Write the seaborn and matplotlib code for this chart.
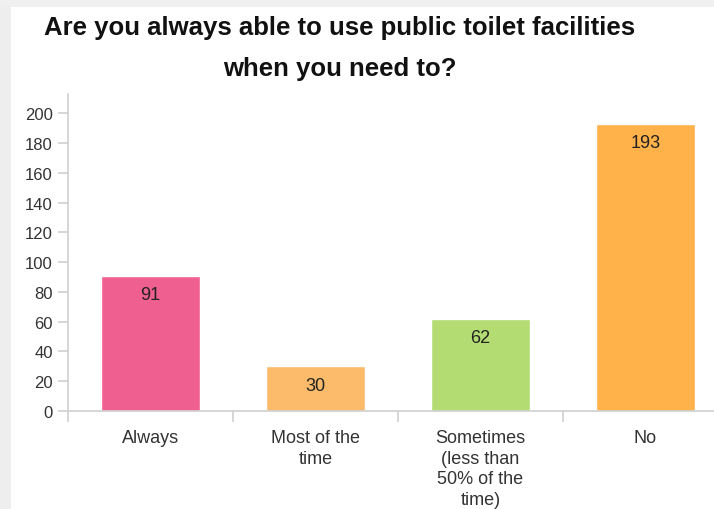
import matplotlib
matplotlib.use("Agg")
import matplotlib.pyplot as plt
from matplotlib.patches import Rectangle
import seaborn as sns
import pandas as pd

categories = ["Always", "Most of the\ntime", "Sometimes\n(less than\n50% of the\ntime)", "No"]
counts = [91, 30, 62, 193]
colors = ["#EF5F8F", "#FBBB6B", "#B3DD72", "#FFB24A"]
yticks = [0, 20, 40, 60, 80, 100, 120, 140, 160, 180, 200]
title = "Are you always able to use public toilet facilities\nwhen you need to?"

sns.set_theme(style="white")
plt.rcParams["font.family"] = ["Liberation Sans", "DejaVu Sans"]

W, H = 714, 510
fig = plt.figure(figsize=(W / 100, H / 100), dpi=100)
fig.patch.set_facecolor("white")

# page frame shading along the left and top edges
fig.patches.append(Rectangle((0, 0), 11 / W, 1, transform=fig.transFigure,
                             facecolor="#eeeeee", edgecolor="none", zorder=0))
fig.patches.append(Rectangle((0, 1 - 8 / H), 1, 8 / H, transform=fig.transFigure,
                             facecolor="#f0f0f0", edgecolor="none", zorder=0))

left, right, bottom, top = 68, 728, 412, 95
ax = fig.add_axes([left / W, (H - bottom) / H, (right - left) / W, (bottom - top) / H])
ax.set_facecolor("none")

df = pd.DataFrame({"category": categories, "count": counts})
sns.barplot(data=df, x="category", y="count", hue="category", palette=colors,
            width=0.6, legend=False, ax=ax, saturation=1)

ax.set_xlim(-0.5, 3.5)
ax.set_ylim(0, 213)
ax.set_xlabel("")
ax.set_ylabel("")

for spine in ["top", "right"]:
    ax.spines[spine].set_visible(False)
for spine in ["left", "bottom"]:
    ax.spines[spine].set_color("#d0d0d0")
    ax.spines[spine].set_linewidth(1.2)

ax.set_yticks(yticks)
ax.tick_params(axis="y", left=True, length=7, width=1.2, color="#d0d0d0",
               labelsize=12, labelcolor="#333333", pad=4)
ax.set_xticks(range(len(categories)))
ax.set_xticklabels(categories, fontsize=13, color="#333333", linespacing=1.27, va="top")
ax.tick_params(axis="x", which="major", length=0, pad=13)
ax.set_xticks([i - 0.5 for i in range(len(categories) + 1)], minor=True)
ax.tick_params(axis="x", which="minor", bottom=True, length=8, width=1.2, color="#d0d0d0")

for i, v in enumerate(counts):
    ax.annotate(str(v), (i, v), xytext=(0, -13.5), textcoords="offset points",
                ha="center", va="center", fontsize=13, color="#222222")

fig.text(340 / W, 1 - 48.5 / H, title, ha="center", va="center", fontsize=18.5,
         fontweight="bold", color="#111111", linespacing=1.9)

fig.savefig("out.png", dpi=100)
